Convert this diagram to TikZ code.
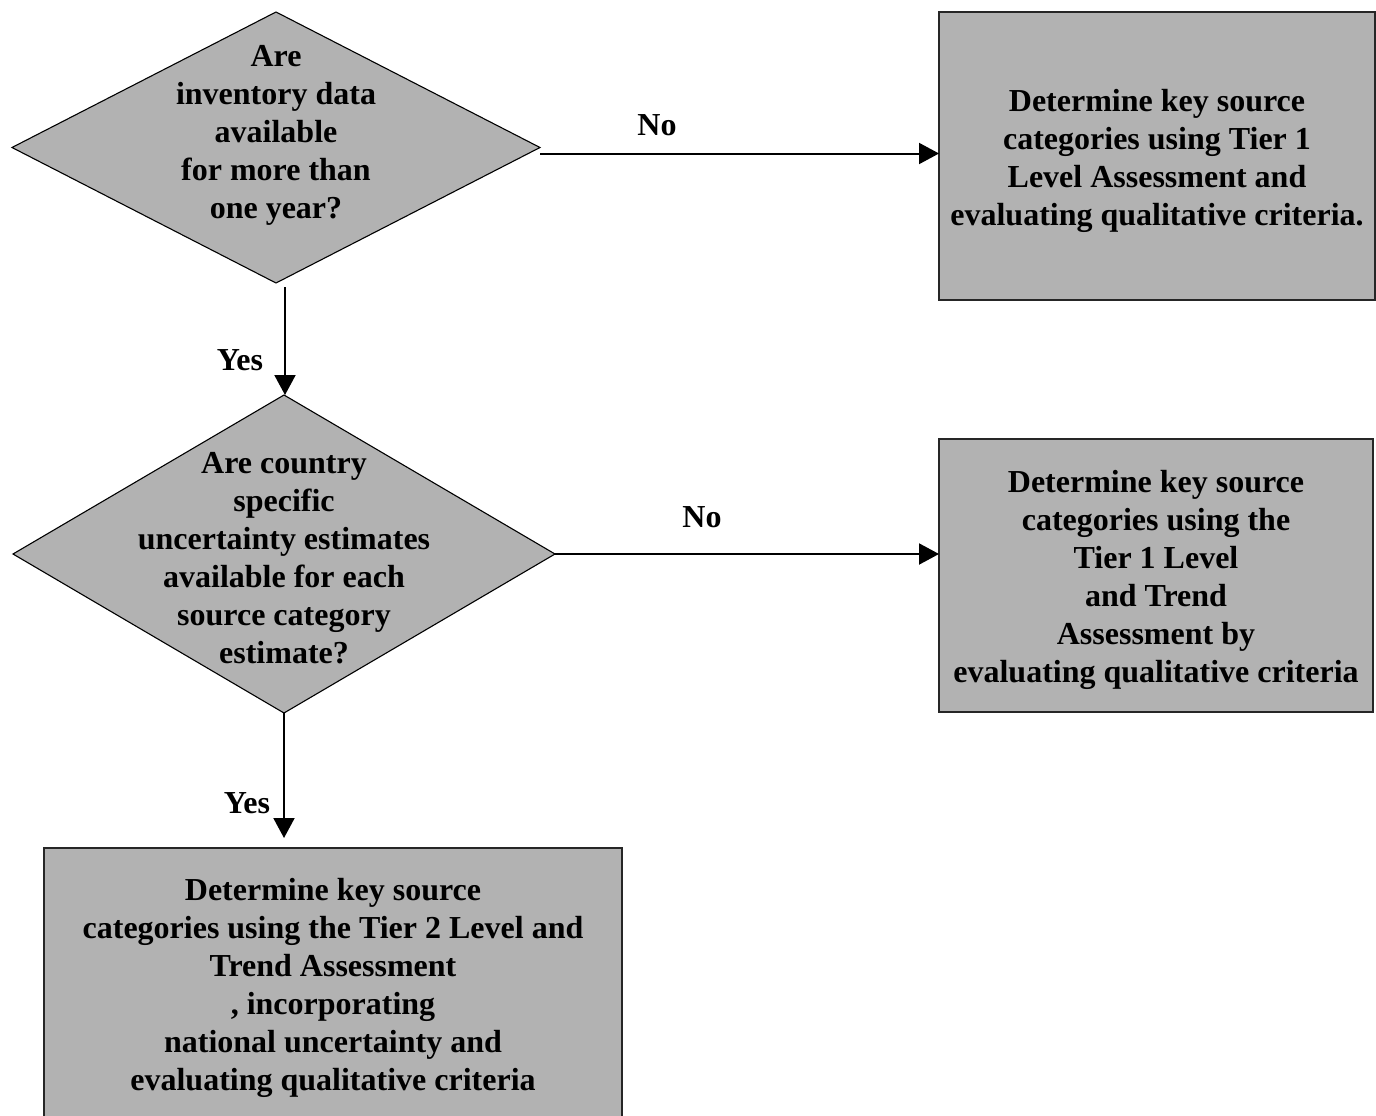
\documentclass[tikz,border=0pt]{standalone}
\usepackage{fontspec}
\setmainfont{Liberation Serif}
\usetikzlibrary{arrows.meta,shapes.geometric}
\definecolor{boxgray}{RGB}{178,178,178}
\begin{document}
\begin{tikzpicture}[x=1pt,y=-1pt,
  txt/.style={font=\fontsize{32}{38}\selectfont\bfseries, align=center, inner sep=0pt},
  diam/.style={diamond, fill=boxgray, draw=black, line width=1.1pt, inner sep=0pt, outer sep=0pt},
  procbox/.style={rectangle, fill=boxgray, draw=black!85, line width=1.5pt, inner sep=0pt, outer sep=0pt,
                  minimum height=#1, font=\fontsize{32}{38}\selectfont\bfseries, align=center},
  arr/.style={line width=2pt, -{Triangle[length=20pt,width=21pt]}},
  lbl/.style={font=\fontsize{32}{38}\selectfont\bfseries, inner sep=0pt}]
\useasboundingbox (0,0) rectangle (1376,1116);

% decision 1
\node[diam, minimum width=528pt, minimum height=271pt] (d1) at (276,147.5) {};
\node[txt] (q1) at (276,135) {Are\\inventory data\\available\\for more than\\one year?};

% decision 2
\node[diam, minimum width=542pt, minimum height=318pt] (d2) at (284,554) {};
\node[txt] (q2) at (284,558) {Are country\\specific\\uncertainty estimates\\available for each\\source category\\estimate?};

% outcome boxes
\node[procbox=288pt, minimum width=436pt] (b1) at (1157,156) {};
\node[txt] (t1) at (1157,161)
  {Determine key source\\categories using Tier 1\\Level Assessment and\\evaluating qualitative criteria.};
\node[procbox=273pt, minimum width=434pt] (b2) at (1156,575.5) {};
\node[txt] (t2) at (1156,580)
  {Determine key source\\categories using the\\Tier 1 Level\\and Trend\\Assessment by\\evaluating qualitative criteria};
\node[procbox=272pt, minimum width=578pt] (b3) at (333,984) {};
\node[txt] (t3) at (333,988)
  {Determine key source\\categories using the Tier 2 Level and\\Trend Assessment\\, incorporating\\national uncertainty and\\evaluating qualitative criteria};

% connectors
\draw[arr] (d1.east) ++(0,6) coordinate (s1) -- (s1 -| b1.west);
\draw[arr] (d1.south) ++(9,4) coordinate (s2) -- (s2 |- d2.north);
\draw[arr] (d2.east) -- (d2.east -| b2.west);
\path ([yshift=10pt]b3.north) coordinate (b3top);
\draw[arr] (d2.south) -- (d2.south |- b3top);

% labels
\node[lbl] (no1) at (657,125) {No};
\node[lbl] (yes1) at (240,360) {Yes};
\node[lbl] (no2) at (702,517) {No};
\node[lbl] (yes2) at (247,803) {Yes};
\end{tikzpicture}
\end{document}
